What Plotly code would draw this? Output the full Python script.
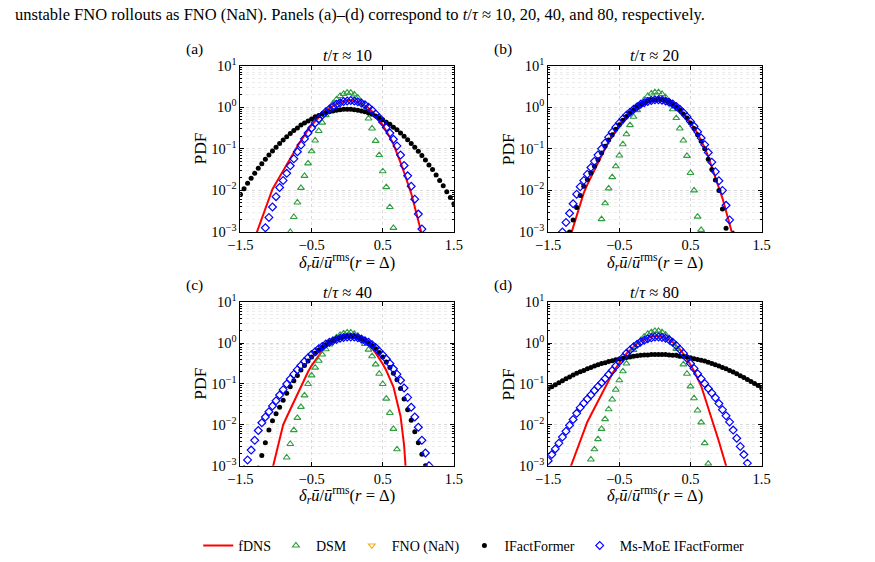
import plotly.graph_objects as go

# ---------------- data (log10 of PDF) ----------------
x_bins = [-1.5, -1.45, -1.4, -1.35, -1.3, -1.25, -1.2, -1.15, -1.1, -1.05,
          -1.0, -0.95, -0.9, -0.85, -0.8, -0.75, -0.7, -0.65, -0.6, -0.55,
          -0.5, -0.45, -0.4, -0.35, -0.3, -0.25, -0.2, -0.15, -0.1, -0.05,
          0.0,
          0.05, 0.1, 0.15, 0.2, 0.25, 0.3, 0.35, 0.4, 0.45, 0.5,
          0.55, 0.6, 0.65, 0.7, 0.75, 0.8, 0.85, 0.9, 0.95, 1.0,
          1.05, 1.1, 1.15, 1.2, 1.25, 1.3, 1.35, 1.4, 1.45, 1.5]
N = None

# panel (a)  t/tau ~ 10
fdns_a = [N, N, -3.62, -3.38, -3.14, -2.90, -2.67, -2.43, -2.19, -1.97,
          -1.82, -1.68, -1.53, -1.38, -1.24, -1.09, -0.94, -0.80, -0.67, -0.54,
          -0.43, -0.33, -0.24, -0.15, -0.08, -0.02, 0.04, 0.08, 0.12, 0.14,
          0.16,
          0.16, 0.15, 0.13, 0.09, 0.04, -0.02, -0.10, -0.20, -0.31, -0.43,
          -0.57, -0.72, -0.89, -1.10, -1.33, -1.57, -1.81, -2.07, -2.40, -2.73,
          -3.07, -3.40, -3.73, N, N, N, N, N, N, N]
dsm_a = [N, N, N, N, N, N, N, N, N, N,
         N, N, N, N, -3.00, -2.64, -2.29, -1.94, -1.65, -1.35,
         -1.06, -0.80, -0.57, -0.37, -0.19, -0.04, 0.09, 0.19, 0.27, 0.32,
         0.35,
         0.35, 0.31, 0.23, 0.11, -0.06, -0.27, -0.51, -0.81, -1.15, -1.54,
         -1.92, -2.40, -2.90, N, N, N, N, N, N, N,
         N, N, N, N, N, N, N, N, N, N]
ifact_a = [-2.10, -1.96, -1.83, -1.71, -1.59, -1.47, -1.36, -1.25, -1.15, -1.05,
           -0.96, -0.87, -0.79, -0.71, -0.63, -0.56, -0.50, -0.43, -0.38, -0.33,
           -0.28, -0.23, -0.20, -0.16, -0.13, -0.11, -0.09, -0.07, -0.06, -0.05,
           -0.05,
           -0.05, -0.06, -0.07, -0.09, -0.11, -0.14, -0.17, -0.21, -0.25, -0.30,
           -0.36, -0.41, -0.48, -0.54, -0.62, -0.70, -0.78, -0.87, -0.96, -1.06,
           -1.16, -1.27, -1.39, -1.50, -1.63, -1.76, -1.89, -2.03, -2.17, -2.32]
moe_a = [N, N, N, N, N, N, -3.15, -2.90, -2.65, -2.40,
         -2.15, -1.93, -1.76, -1.59, -1.41, -1.24, -1.07, -0.91, -0.76, -0.62,
         -0.50, -0.38, -0.28, -0.19, -0.11, -0.04, 0.02, 0.07, 0.11, 0.14,
         0.15,
         0.16, 0.15, 0.13, 0.10, 0.06, 0.00, -0.07, -0.16, -0.25, -0.36,
         -0.49, -0.62, -0.77, -0.93, -1.15, -1.40, -1.65, -1.90, -2.21, -2.57,
         -2.93, -3.29, N, N, N, N, N, N, N, N]

# panel (b)  t/tau ~ 20
fdns_b = [N, N, N, N, -3.72, -3.44, -3.17, -2.89, -2.61, -2.33,
          -2.06, -1.86, -1.68, -1.50, -1.32, -1.14, -0.97, -0.82, -0.68, -0.55,
          -0.43, -0.33, -0.23, -0.14, -0.06, 0.00, 0.06, 0.11, 0.14, 0.17,
          0.18,
          0.19, 0.18, 0.16, 0.13, 0.08, 0.02, -0.06, -0.14, -0.25, -0.36,
          -0.49, -0.64, -0.79, -0.97, -1.19, -1.43, -1.67, -1.90, -2.19, -2.50,
          -2.81, -3.13, -3.44, -3.75, N, N, N, N, N, N]
dsm_b = [N, N, N, N, N, N, N, N, N, N,
         N, N, N, N, -3.08, -2.69, -2.31, -1.95, -1.68, -1.42,
         -1.16, -0.89, -0.65, -0.43, -0.23, -0.07, 0.07, 0.18, 0.27, 0.33,
         0.36,
         0.36, 0.32, 0.24, 0.11, -0.05, -0.26, -0.51, -0.80, -1.17, -1.58,
         -2.00, -2.63, -2.95, N, N, N, N, N, N, N,
         N, N, N, N, N, N, N, N, N, N]
ifact_b = [N, N, N, N, N, -3.29, -3.00, -2.71, -2.41, -2.12,
           -1.90, -1.74, -1.58, -1.42, -1.26, -1.10, -0.94, -0.79, -0.66, -0.53,
           -0.42, -0.31, -0.22, -0.13, -0.06, 0.01, 0.06, 0.11, 0.15, 0.17,
           0.18,
           0.19, 0.18, 0.16, 0.13, 0.08, 0.01, -0.06, -0.16, -0.26, -0.38,
           -0.51, -0.66, -0.82, -1.00, -1.25, -1.50, -1.75, -2.00, -2.45, -2.91,
           -3.36, N, N, N, N, N, N, N, N, N]
moe_b = [N, N, N, -3.23, -3.00, -2.77, -2.55, -2.32, -2.09, -1.91,
         -1.76, -1.61, -1.45, -1.30, -1.15, -1.00, -0.86, -0.72, -0.60, -0.48,
         -0.38, -0.28, -0.19, -0.12, -0.05, 0.01, 0.07, 0.11, 0.14, 0.16,
         0.18,
         0.18, 0.17, 0.15, 0.12, 0.08, 0.02, -0.05, -0.13, -0.23, -0.34,
         -0.46, -0.59, -0.74, -0.90, -1.09, -1.32, -1.55, -1.77, -2.00, -2.36,
         -2.71, -3.07, N, N, N, N, N, N, N, N]

# panel (c)  t/tau ~ 40
fdns_c = [N, N, N, N, N, N, N, -3.79, -3.43, -3.07,
          -2.71, -2.36, -2.00, -1.81, -1.62, -1.42, -1.23, -1.04, -0.86, -0.70,
          -0.55, -0.42, -0.29, -0.19, -0.09, -0.01, 0.06, 0.11, 0.15, 0.18,
          0.20,
          0.20, 0.18, 0.15, 0.11, 0.04, -0.04, -0.13, -0.24, -0.37, -0.51,
          -0.67, -0.85, -1.07, -1.43, -1.79, -2.50, -3.75, N, N, N,
          N, N, N, N, N, N, N, N, N, N]
dsm_c = [N, N, N, N, N, N, N, N, N, N,
         N, N, -3.13, -2.80, -2.47, -2.13, -1.83, -1.56, -1.28, -1.00,
         -0.79, -0.60, -0.43, -0.28, -0.15, -0.03, 0.06, 0.14, 0.20, 0.24,
         0.26,
         0.26, 0.23, 0.18, 0.10, -0.02, -0.16, -0.32, -0.52, -0.75, -1.00,
         -1.36, -1.71, -2.10, -2.60, -3.10, N, N, N, N, N,
         N, N, N, N, N, N, N, N, N, N]
ifact_c = [N, N, N, N, N, -3.06, -2.75, -2.44, -2.13, -1.90,
           -1.73, -1.57, -1.40, -1.23, -1.07, -0.92, -0.79, -0.66, -0.55, -0.44,
           -0.34, -0.25, -0.17, -0.10, -0.04, 0.02, 0.06, 0.10, 0.13, 0.15,
           0.17,
           0.17, 0.16, 0.14, 0.11, 0.07, 0.01, -0.06, -0.14, -0.23, -0.34,
           -0.46, -0.60, -0.74, -0.90, -1.11, -1.37, -1.63, -1.89, -2.17, -2.44,
           -2.72, -3.00, N, N, N, N, N, N, N, N]
moe_c = [-3.33, -3.10, -2.86, -2.62, -2.38, -2.14, -1.95, -1.81, -1.68, -1.54,
         -1.41, -1.27, -1.14, -1.00, -0.88, -0.76, -0.65, -0.55, -0.45, -0.36,
         -0.28, -0.21, -0.14, -0.08, -0.02, 0.02, 0.06, 0.09, 0.12, 0.14,
         0.15,
         0.15, 0.15, 0.13, 0.10, 0.06, 0.02, -0.04, -0.11, -0.20, -0.29,
         -0.39, -0.50, -0.63, -0.76, -0.91, -1.10, -1.33, -1.57, -1.81, -2.06,
         -2.38, -2.69, -3.00, N, N, N, N, N, N, N]

# panel (d)  t/tau ~ 80
fdns_d = [N, N, N, N, -3.57, -3.33, -3.10, -2.86, -2.62, -2.38,
          -2.14, -1.93, -1.76, -1.59, -1.41, -1.24, -1.07, -0.90, -0.75, -0.61,
          -0.48, -0.36, -0.26, -0.17, -0.08, -0.01, 0.05, 0.09, 0.13, 0.16,
          0.17,
          0.17, 0.15, 0.12, 0.08, 0.02, -0.06, -0.15, -0.26, -0.38, -0.53,
          -0.68, -0.85, -1.05, -1.32, -1.58, -1.84, -2.12, -2.41, -2.71, -3.00,
          -3.29, -3.58, N, N, N, N, N, N, N, N]
dsm_d = [N, N, N, N, N, N, N, N, N, N,
         N, -3.10, -2.85, -2.60, -2.35, -2.10, -1.86, -1.62, -1.38, -1.14,
         -0.91, -0.69, -0.50, -0.32, -0.17, -0.04, 0.07, 0.16, 0.23, 0.27,
         0.30,
         0.30, 0.27, 0.21, 0.12, 0.00, -0.14, -0.32, -0.52, -0.75, -1.06,
         -1.35, -1.65, -1.94, -2.45, -2.95, N, N, N, N, N,
         N, N, N, N, N, N, N, N, N, N]
ifact_d = [-1.12, -1.07, -1.02, -0.97, -0.92, -0.87, -0.83, -0.78, -0.74, -0.70,
           -0.67, -0.63, -0.60, -0.56, -0.53, -0.50, -0.48, -0.45, -0.43, -0.41,
           -0.39, -0.37, -0.35, -0.34, -0.32, -0.31, -0.30, -0.29, -0.29, -0.28,
           -0.28,
           -0.28, -0.28, -0.28, -0.29, -0.30, -0.30, -0.32, -0.33, -0.34, -0.36,
           -0.38, -0.40, -0.42, -0.44, -0.47, -0.50, -0.53, -0.56, -0.60, -0.63,
           -0.67, -0.71, -0.75, -0.80, -0.84, -0.89, -0.94, -0.99, -1.04, -1.10]
moe_d = [-2.88, -2.73, -2.59, -2.45, -2.30, -2.16, -2.01, -1.87, -1.72, -1.58,
         -1.47, -1.37, -1.27, -1.16, -1.06, -0.97, -0.87, -0.77, -0.67, -0.56,
         -0.45, -0.35, -0.25, -0.17, -0.09, -0.03, 0.03, 0.07, 0.11, 0.13,
         0.15,
         0.15, 0.14, 0.12, 0.08, 0.02, -0.06, -0.15, -0.25, -0.37, -0.50,
         -0.62, -0.75, -0.87, -0.99, -1.11, -1.22, -1.34, -1.48, -1.63, -1.78,
         -1.93, -2.13, -2.33, -2.53, -2.73, -2.94, -3.14, N, N, N]

panel_letters = ["(a)", "(b)", "(c)", "(d)"]
panel_times = ["10", "20", "40", "80"]
x_tick_vals = [-1.5, -0.5, 0.5, 1.5]
x_tick_text = ["\u22121.5", "\u22120.5", "0.5", "1.5"]
y_tick_vals = [1e-3, 1e-2, 1e-1, 1e0, 1e1]
y_tick_text = ["10<sup>\u22123</sup>", "10<sup>\u22122</sup>", "10<sup>\u22121</sup>",
               "10<sup>0</sup>", "10<sup>1</sup>"]
series_names = ["fDNS", "DSM", "FNO (NaN)", "IFactFormer", "Ms-MoE IFactFormer"]

panels = [
    (fdns_a, dsm_a, ifact_a, moe_a),
    (fdns_b, dsm_b, ifact_b, moe_b),
    (fdns_c, dsm_c, ifact_c, moe_c),
    (fdns_d, dsm_d, ifact_d, moe_d),
]
for grp in panels:
    for s in grp:
        assert len(s) == len(x_bins), len(s)


def to_pdf(vals):
    return [None if v is None else 10 ** v for v in vals]


# ---------------- styling ----------------
FONT = "Liberation Serif"
RED = "#ff0000"
GREEN = "#2e9e3e"
ORANGE = "#edb120"
BLUE = "#0000ff"

W, H = 875, 562
# The page is captured with the browser's 8 px body margin and then fitted
# back into 875x562; these helpers map target picture pixels to paper coords.
BODY_MARGIN = 8
SX = W / (W + 2 * BODY_MARGIN)
SY = H / (H + 2 * BODY_MARGIN)


def px(x):
    return (x / SX - BODY_MARGIN) / W


def py(y):
    return 1 - (y / SY - BODY_MARGIN) / H


# plot-area boxes in target-picture pixels (left, right, top, bottom)
boxes = [(237, 452, 64, 232), (547, 762, 64, 232),
         (237, 452, 303, 468), (547, 762, 303, 468)]

fig = go.Figure()

for i, (fd, ds, ifa, mo) in enumerate(panels):
    xa = "x" if i == 0 else f"x{i+1}"
    ya = "y" if i == 0 else f"y{i+1}"
    first = i == 0
    fig.add_trace(go.Scatter(x=x_bins, y=to_pdf(fd), mode="lines",
                             line=dict(color=RED, width=2),
                             name=series_names[0], legendrank=1,
                             showlegend=first, xaxis=xa, yaxis=ya))
    fig.add_trace(go.Scatter(x=x_bins, y=to_pdf(ds), mode="markers",
                             marker=dict(symbol="triangle-up-open", color=GREEN, size=6,
                                         line=dict(width=1.1, color=GREEN)),
                             name=series_names[1], legendrank=2,
                             showlegend=first, xaxis=xa, yaxis=ya))
    if first:
        fig.add_trace(go.Scatter(x=[None], y=[None], mode="markers",
                                 marker=dict(symbol="triangle-down-open", color=ORANGE, size=6,
                                             line=dict(width=1.1, color=ORANGE)),
                                 name=series_names[2], legendrank=3,
                                 showlegend=True, xaxis=xa, yaxis=ya))
    fig.add_trace(go.Scatter(x=x_bins, y=to_pdf(ifa), mode="markers",
                             marker=dict(symbol="circle", color="black", size=5),
                             name=series_names[3], legendrank=4,
                             showlegend=first, xaxis=xa, yaxis=ya))
    fig.add_trace(go.Scatter(x=x_bins, y=to_pdf(mo), mode="markers",
                             marker=dict(symbol="diamond-open", color=BLUE, size=6,
                                         line=dict(width=1.2, color=BLUE)),
                             name=series_names[4], legendrank=5,
                             showlegend=first, xaxis=xa, yaxis=ya))

axis_font = dict(family=FONT, size=14.5, color="black")
annotations = []
for i, (l, r, t, b) in enumerate(boxes):
    xkey = "xaxis" if i == 0 else f"xaxis{i+1}"
    ykey = "yaxis" if i == 0 else f"yaxis{i+1}"
    yname = "y" if i == 0 else f"y{i+1}"
    xname = "x" if i == 0 else f"x{i+1}"
    fig.layout[xkey] = dict(
        domain=[px(l), px(r)], anchor=yname, range=[-1.5, 1.5],
        tickmode="array", tickvals=x_tick_vals, ticktext=x_tick_text,
        ticks="inside", ticklen=4, tickcolor="black",
        showline=True, linecolor="black", linewidth=1, mirror="ticks",
        showgrid=True, gridcolor="#d9d9d9", griddash="dot", gridwidth=1,
        zeroline=False, tickfont=axis_font,
    )
    fig.layout[ykey] = dict(
        domain=[py(b), py(t)], anchor=xname, type="log", range=[-3, 1],
        tickmode="array", tickvals=y_tick_vals, ticktext=y_tick_text,
        ticks="inside", ticklen=4, tickcolor="black",
        showline=True, linecolor="black", linewidth=1, mirror="ticks",
        showgrid=True, gridcolor="#d9d9d9", griddash="dot", gridwidth=1,
        zeroline=False, tickfont=axis_font,
        minor=dict(dtick="D1", ticks="inside", ticklen=2, tickcolor="black",
                   showgrid=True, gridcolor="#ececec", griddash="dot"),
    )
    cx = px((l + r) / 2)
    # panel title
    annotations.append(dict(
        text=f"<i>t</i>/<i>\u03c4</i> \u2248 {panel_times[i]}",
        x=cx, y=py(t - 10), xref="paper", yref="paper",
        xanchor="center", yanchor="middle", showarrow=False,
        font=dict(family=FONT, size=16.5, color="black")))
    # panel letter
    annotations.append(dict(
        text=panel_letters[i], x=px(l - 46), y=py(t - 17),
        xref="paper", yref="paper", xanchor="center", yanchor="middle",
        showarrow=False, font=dict(family=FONT, size=15.5, color="black")))
    # y title
    annotations.append(dict(
        text="PDF", x=px(l - 41), y=py((t + b) / 2), textangle=-90,
        xref="paper", yref="paper", xanchor="center", yanchor="middle",
        showarrow=False, font=dict(family=FONT, size=17.5, color="black")))
    # x title
    annotations.append(dict(
        text="<i>\u03b4<sub>r</sub>\u016b</i>/<i>\u016b</i><sup>rms</sup>(<i>r</i> = \u0394)",
        x=cx, y=py(b + 30), xref="paper", yref="paper",
        xanchor="center", yanchor="middle", showarrow=False,
        font=dict(family=FONT, size=16.5, color="black")))

annotations.append(dict(
    text="unstable FNO rollouts as FNO (NaN). Panels (a)\u2013(d) correspond to "
         "<i>t</i>/<i>\u03c4</i> \u2248 10, 20, 40, and 80, respectively.",
    x=px(8), y=py(12), xref="paper", yref="paper",
    xanchor="left", yanchor="middle", showarrow=False,
    font=dict(family=FONT, size=16.5, color="black")))

fig.update_layout(
    width=W, height=H,
    margin=dict(l=0, r=0, t=0, b=0),
    paper_bgcolor="white", plot_bgcolor="white",
    font=dict(family=FONT, size=14, color="black"),
    annotations=annotations,
    showlegend=True,
    legend=dict(orientation="h", x=px(472), xanchor="center",
                y=py(549), yanchor="middle",
                font=dict(family=FONT, size=14, color="black"),
                itemwidth=30, bgcolor="rgba(0,0,0,0)", traceorder="normal"),
)

fig.write_html("out.html")
